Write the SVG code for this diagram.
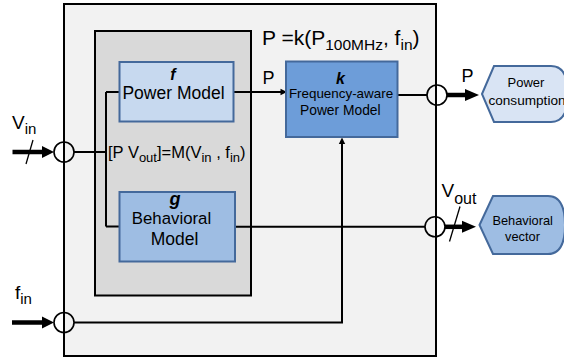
<svg xmlns="http://www.w3.org/2000/svg" width="564" height="360" viewBox="0 0 564 360">
<style>
text{font-family:"Liberation Sans",Arial,sans-serif;fill:#000}
.bi{font-weight:bold;font-style:italic}
.c{text-anchor:middle}
.blk{stroke:#000;stroke-width:2;fill:none}
.bl{stroke:#44699b;stroke-width:2}
.thick{stroke:#000;stroke-width:4.5;fill:none}
.thin{stroke:#000;stroke-width:1.3;fill:none}
.ring{stroke:#000;stroke-width:1.6;fill:none}
</style>
<rect width="564" height="360" fill="#ffffff"/>
<g id="system">
<rect x="64" y="4" width="372" height="352" fill="#f2f2f2" stroke="#000" stroke-width="2"/>
</g>
<g id="model-M">
<rect x="95" y="31" width="156" height="264.5" fill="#d9d9d9" stroke="#000" stroke-width="2"/>
</g>
<g id="connectors">
<path class="blk" d="M74,152 H106 M106,92 V226.5 M106,92 H119.5 M106,226.5 H119.5"/>
<path class="blk" d="M233.5,92 H282"/>
<polygon points="287,92 280.5,88.8 280.5,95.2" fill="#000"/>
<path class="blk" d="M397.5,95 H427"/>
<path class="blk" d="M235,226.8 H425"/>
<path class="blk" d="M74,322.5 H342 V143"/>
<polygon points="342,137.5 338.8,144 345.2,144" fill="#000"/>
<circle class="ring" cx="64" cy="152" r="10"/>
<circle class="ring" cx="64" cy="322.5" r="10"/>
<circle class="ring" cx="437" cy="95" r="10"/>
<circle class="ring" cx="435" cy="226.8" r="10"/>
<path class="thick" d="M12.5,152 H44"/>
<polygon points="42,146 54,152 42,158" fill="#000"/>
<path class="thin" d="M26,164 L33,140"/>
<path class="thick" d="M12,322.5 H44"/>
<polygon points="42,316.5 54,322.5 42,328.5" fill="#000"/>
<path class="thick" d="M447,95 H467"/>
<polygon points="465,89 479,95 465,101" fill="#000"/>
<path class="thick" d="M445,226.8 H464"/>
<polygon points="462,220.8 476,226.8 462,232.8" fill="#000"/>
<path class="thin" d="M449.5,241.5 L460,206.5"/>
</g>
<g id="power-model">
<rect class="bl" x="119.5" y="62" width="114" height="59.5" fill="#c7d9ef"/>
<text class="bi c" x="173" y="79.5" font-size="16">f</text>
<text class="c" x="173.5" y="98.5" font-size="17.5">Power Model</text>
</g>
<g id="behavioral-model">
<rect class="bl" x="119.5" y="192" width="115.5" height="69.5" fill="#9ebde3"/>
<text class="bi c" x="175" y="205" font-size="18">g</text>
<text class="c" x="171.5" y="223.5" font-size="16.8">Behavioral</text>
<text class="c" x="174.5" y="245" font-size="17.5">Model</text>
</g>
<g id="freq-power-model">
<rect class="bl" x="286" y="61.5" width="111.5" height="75.5" fill="#6d9dd9"/>
<text class="bi c" x="340.5" y="83.5" font-size="16">k</text>
<text class="c" x="341" y="97.5" font-size="13.4">Frequency-aware</text>
<text class="c" x="340.3" y="114.5" font-size="13.8">Power Model</text>
</g>
<g id="power-consumption">
<path class="bl" d="M482,94 L494,66 H551 Q568,66 568,94 Q568,122 551,122 H494 Z" fill="#d9e4f4"/>
<text class="c" x="526" y="87" font-size="13">Power</text>
<text class="c" x="527" y="105" font-size="13.6">consumption</text>
</g>
<g id="behavioral-vector">
<path class="bl" d="M479.5,225 L493,196 H548 Q565,196 565,225 Q565,254 548,254 H493 Z" fill="#9ebde3"/>
<text class="c" x="522.7" y="224.5" font-size="12.8">Behavioral</text>
<text class="c" x="522.5" y="241" font-size="12.8">vector</text>
</g>
<g id="labels">
<text x="262" y="45" font-size="21">P =k(P<tspan dy="4.5" font-size="15.5">100MHz</tspan><tspan dy="-4.5">, f</tspan><tspan dy="4.5" font-size="15.5">in</tspan><tspan dy="-4.5">)</tspan></text>
<text x="108" y="157.5" font-size="16.5">[P V<tspan dy="4" font-size="13">out</tspan><tspan dy="-4">]=M(V</tspan><tspan dy="4" font-size="13">in</tspan><tspan dy="-4"> , f</tspan><tspan dy="4" font-size="13">in</tspan><tspan dy="-4">)</tspan></text>
<text x="262.5" y="83.5" font-size="18">P</text>
<text x="461.5" y="82" font-size="18">P</text>
<text x="12" y="128.5" font-size="19">V<tspan dy="5.5" font-size="15">in</tspan></text>
<text x="15" y="298.5" font-size="19">f<tspan dy="5" font-size="15">in</tspan></text>
<text x="441.5" y="197" font-size="19">V<tspan dy="6.5" font-size="16">out</tspan></text>
</g>
</svg>
